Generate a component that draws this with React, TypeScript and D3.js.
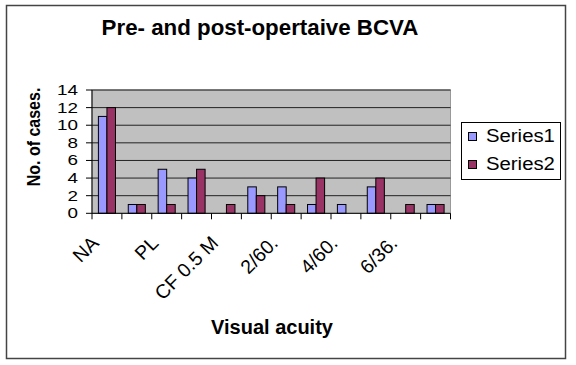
import * as React from "react";
import * as d3 from "d3";

const categories = [
  "NA",
  "NPL",
  "PL",
  "HM",
  "CF 0.5 M",
  "1/60.",
  "2/60.",
  "3/60.",
  "4/60.",
  "5/60.",
  "6/36.",
  "6/24.",
];
const series1 = [11, 1, 5, 4, 0, 3, 3, 1, 1, 3, 0, 1];
const series2 = [12, 1, 1, 5, 1, 2, 1, 4, 0, 4, 1, 1];
const seriesNames = ["Series1", "Series2"];
const seriesColors = ["#9999FF", "#993366"];
const yTicks = [0, 2, 4, 6, 8, 10, 12, 14];

const W = 576;
const H = 365;
const plot = { left: 92, right: 450.5, top: 90, bottom: 213.3 };
const font = "'Liberation Sans', Arial, sans-serif";

export default function App() {
  const x = React.useMemo(
    () =>
      d3
        .scaleBand()
        .domain(categories)
        .range([plot.left, plot.right]),
    []
  );
  const inner = React.useMemo(
    () =>
      d3
        .scaleBand()
        .domain(seriesNames)
        .range([0, x.bandwidth()])
        .paddingInner(0)
        .paddingOuter(0.75),
    [x]
  );
  const y = React.useMemo(
    () => d3.scaleLinear().domain([0, 14]).range([plot.bottom, plot.top]),
    []
  );

  const values = [series1, series2];

  return (
    <svg
      width={W}
      height={H}
      style={{ position: "fixed", left: 0, top: 0, background: "#fff" }}
      fontFamily={font}
    >
      {/* outer chart border */}
      <rect x={6.5} y={5.5} width={559} height={353} fill="#fff" stroke="#444" strokeWidth={1.5} />

      <text x={260} y={35} textAnchor="middle" fontSize={22.3} fontWeight="bold">
        Pre- and post-opertaive BCVA
      </text>

      {/* plot area */}
      <rect
        x={plot.left}
        y={plot.top}
        width={plot.right - plot.left}
        height={plot.bottom - plot.top}
        fill="#C0C0C0"
        stroke="#999"
      />
      {yTicks.slice(1).map((t) => (
        <line key={t} x1={plot.left} x2={plot.right} y1={y(t)} y2={y(t)} stroke="#222" strokeWidth={1} />
      ))}

      {/* bars */}
      {categories.map((c, i) => (
        <g key={c}>
          {seriesNames.map((s, j) => {
            const v = values[j][i];
            if (!v) return null;
            return (
              <rect
                key={s}
                x={(x(c) ?? 0) + (inner(s) ?? 0)}
                y={y(v)}
                width={inner.bandwidth()}
                height={y(0) - y(v)}
                fill={seriesColors[j]}
                stroke="#000"
                strokeWidth={1}
              />
            );
          })}
        </g>
      ))}

      {/* y axis */}
      <line x1={plot.left} x2={plot.left} y1={plot.top} y2={plot.bottom} stroke="#000" />
      {yTicks.map((t) => (
        <g key={t}>
          <line x1={plot.left - 6} x2={plot.left} y1={y(t)} y2={y(t)} stroke="#000" />
          <text
            transform={`translate(78,${y(t) + 5}) scale(1.3,1)`}
            textAnchor="end"
            fontSize={14.5}
          >
            {t}
          </text>
        </g>
      ))}

      {/* x axis */}
      <line x1={plot.left} x2={plot.right} y1={plot.bottom} y2={plot.bottom} stroke="#000" />
      {categories.map((c) => (
        <line
          key={c}
          x1={x(c) ?? 0}
          x2={x(c) ?? 0}
          y1={plot.bottom}
          y2={plot.bottom + 6}
          stroke="#000"
        />
      ))}
      <line x1={plot.right} x2={plot.right} y1={plot.bottom} y2={plot.bottom + 6} stroke="#000" />
      {categories.map((c, i) =>
        i % 2 === 0 ? (
          <text
            key={c}
            transform={`translate(${(x(c) ?? 0) + x.bandwidth() / 2 - 7},${plot.bottom + 31}) rotate(-45)`}
            textAnchor="end"
            fontSize={19.5}
          >
            {c}
          </text>
        ) : null
      )}

      <text x={272} y={334} textAnchor="middle" fontSize={20} fontWeight="bold">
        Visual acuity
      </text>
      <text
        transform={`translate(40,137) rotate(-90) scale(1,1.15)`}
        textAnchor="middle"
        fontSize={16}
        fontWeight="bold"
      >
        No. of cases.
      </text>

      {/* legend */}
      <rect x={461.5} y={122.5} width={99} height={57} fill="#fff" stroke="#000" />
      {seriesNames.map((s, j) => (
        <g key={s} transform={`translate(468,${132 + j * 28})`}>
          <rect x={0.5} y={0.5} width={8} height={8} fill={seriesColors[j]} stroke="#000" />
          <text transform="translate(18,10) scale(1.13,1)" fontSize={18}>
            {s}
          </text>
        </g>
      ))}
    </svg>
  );
}
